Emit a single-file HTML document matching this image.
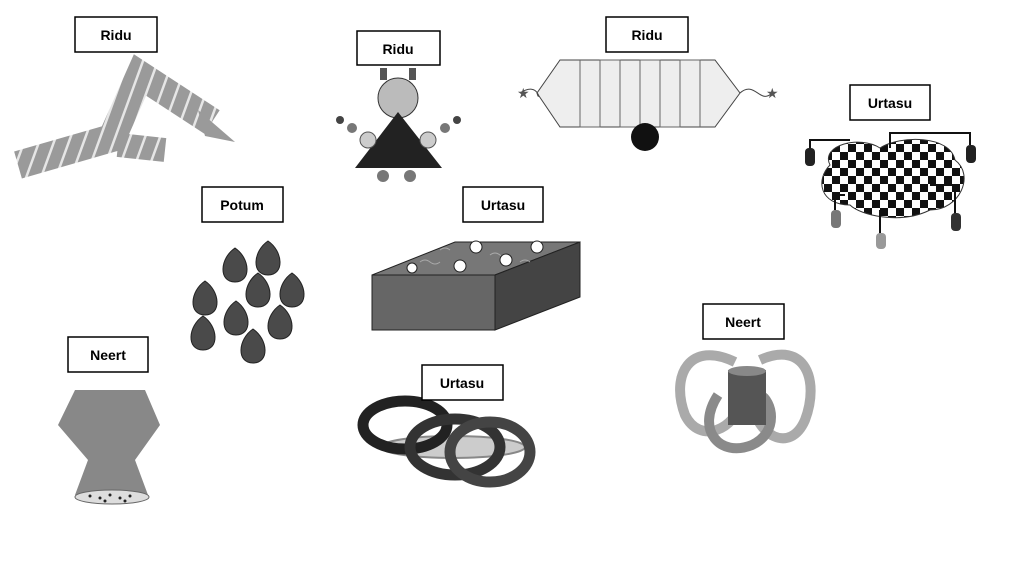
<!DOCTYPE html>
<html><head><meta charset="utf-8"><style>
html,body{margin:0;padding:0;background:#fff;}
svg{display:block;}
.lbl rect{fill:#fff;stroke:#000;stroke-width:1.5;}
.lbl text{font-family:"Liberation Sans",sans-serif;font-weight:bold;font-size:14px;text-anchor:middle;}
</style></head><body>
<svg width="1025" height="577" viewBox="0 0 1025 577">
<defs>
<pattern id="chk" width="16" height="16" patternUnits="userSpaceOnUse"><rect width="16" height="16" fill="#fff"/><rect width="8" height="8" fill="#111"/><rect x="8" y="8" width="8" height="8" fill="#111"/></pattern>
<pattern id="str" width="14" height="14" patternUnits="userSpaceOnUse" patternTransform="rotate(20)"><rect width="14" height="14" fill="#9a9a9a"/><rect width="2.5" height="14" fill="#e6e6e6"/></pattern>
</defs>

<g>
<polyline points="18,165 112,138 140,75 212,122" fill="none" stroke="url(#str)" stroke-width="28" stroke-linejoin="miter"/>
<polyline points="118,145 165,150" fill="none" stroke="url(#str)" stroke-width="24"/>
<polygon points="198,110 235,142 205,136" fill="#9a9a9a"/>
</g>

<g>
<circle cx="398" cy="98" r="20" fill="#bbb" stroke="#333"/>
<rect x="380" y="68" width="7" height="12" fill="#555"/><rect x="409" y="68" width="7" height="12" fill="#555"/>
<polygon points="398,112 355,168 442,168" fill="#222"/>
<circle cx="368" cy="140" r="8" fill="#ccc" stroke="#555"/><circle cx="428" cy="140" r="8" fill="#ccc" stroke="#555"/>
<circle cx="352" cy="128" r="5" fill="#777"/><circle cx="340" cy="120" r="4" fill="#444"/><circle cx="445" cy="128" r="5" fill="#777"/><circle cx="457" cy="120" r="4" fill="#444"/>
<circle cx="383" cy="176" r="6" fill="#777"/><circle cx="410" cy="176" r="6" fill="#777"/>
</g>

<g>
<polygon points="560,60 715,60 740,93 715,127 560,127 537,93" fill="#eee" stroke="#444"/>
<polyline points="580,60 580,127 600,127 600,60 620,60 620,127 640,127 640,60 660,60 660,127 680,127 680,60 700,60 700,127" fill="none" stroke="#666"/>
<circle cx="645" cy="137" r="14" fill="#111"/>
<path d="M520,93 C540,80 540,105 537,93 M740,93 C755,80 760,105 772,93" fill="none" stroke="#444"/>
<text x="517" y="98" font-size="14" fill="#555">★</text><text x="766" y="98" font-size="14" fill="#555">★</text>
</g>

<g>
<path d="M830,165 C820,145 860,135 880,148 C900,135 950,135 955,160 C975,175 960,210 930,210 C900,225 860,215 850,205 C820,205 815,180 830,165Z" fill="url(#chk)" stroke="#333"/>
<path d="M810,150 V140 H850 M890,148 V133 H970 V145 M845,195 H835 V210 M930,185 H955 V215 M880,210 V235" fill="none" stroke="#111" stroke-width="2"/>
<rect x="805" y="148" width="10" height="18" rx="4" fill="#222"/><rect x="966" y="145" width="10" height="18" rx="4" fill="#222"/>
<rect x="831" y="210" width="10" height="18" rx="4" fill="#777"/><rect x="951" y="213" width="10" height="18" rx="4" fill="#333"/><rect x="876" y="233" width="10" height="16" rx="4" fill="#999"/>
</g>

<g fill="#4a4a4a" stroke="#222">
<path d="M235,248 C250,258 252,282 235,282 C218,282 220,258 235,248Z"/>
<path d="M268,241 C283,251 285,275 268,275 C251,275 253,251 268,241Z"/>
<path d="M205,281 C220,291 222,315 205,315 C188,315 190,291 205,281Z"/>
<path d="M258,273 C273,283 275,307 258,307 C241,307 243,283 258,273Z"/>
<path d="M292,273 C307,283 309,307 292,307 C275,307 277,283 292,273Z"/>
<path d="M236,301 C251,311 253,335 236,335 C219,335 221,311 236,301Z"/>
<path d="M280,305 C295,315 297,339 280,339 C263,339 265,315 280,305Z"/>
<path d="M203,316 C218,326 220,350 203,350 C186,350 188,326 203,316Z"/>
<path d="M253,329 C268,339 270,363 253,363 C236,363 238,339 253,329Z"/>
</g>

<g>
<polygon points="372,275 495,275 580,242 455,242" fill="#777" stroke="#222"/>
<rect x="372" y="275" width="123" height="55" fill="#666" stroke="#222"/>
<polygon points="495,275 580,242 580,297 495,330" fill="#444" stroke="#222"/>
<path d="M420,262 q5,-4 10,0 q5,4 10,0 M490,255 q5,-4 10,0 q5,4 10,0 M520,262 q5,-4 10,0 M440,250 q5,-4 10,0" fill="none" stroke="#aaa"/>
<g fill="#fff" stroke="#222"><circle cx="476" cy="247" r="6"/><circle cx="537" cy="247" r="6"/><circle cx="506" cy="260" r="6"/><circle cx="460" cy="266" r="6"/><circle cx="412" cy="268" r="5"/></g>
</g>

<g>
<polygon points="75,390 145,390 160,425 135,460 148,495 75,495 88,460 58,425" fill="#888"/>
<ellipse cx="112" cy="497" rx="37" ry="7" fill="#ddd" stroke="#666"/>
<g fill="#222"><circle cx="90" cy="496" r="1.5"/><circle cx="100" cy="498" r="1.5"/><circle cx="110" cy="495" r="1.5"/><circle cx="120" cy="498" r="1.5"/><circle cx="130" cy="496" r="1.5"/><circle cx="105" cy="501" r="1.5"/><circle cx="125" cy="501" r="1.5"/></g>
</g>

<g fill="none" stroke-width="11">
<ellipse cx="453" cy="447" rx="72" ry="11" fill="#ccc" stroke="#888" stroke-width="2"/>
<ellipse cx="405" cy="425" rx="42" ry="24" stroke="#222"/>
<ellipse cx="455" cy="447" rx="45" ry="28" stroke="#333"/>
<ellipse cx="490" cy="452" rx="40" ry="30" stroke="#444"/>
</g>

<g fill="none" stroke-width="10">
<path d="M735,362 C690,340 670,375 685,415 C700,445 735,430 742,400" stroke="#aaa"/>
<path d="M760,360 C805,340 820,380 805,420 C790,455 755,435 752,400" stroke="#aaa"/>
<path d="M718,395 C695,430 720,458 752,445 C780,432 772,400 760,395" stroke="#8a8a8a"/>
<rect x="728" y="370" width="38" height="55" fill="#555" stroke="none"/>
<ellipse cx="747" cy="371" rx="19" ry="5" fill="#888" stroke="none"/>
</g>

<g class="lbl"><rect x="75" y="17" width="82" height="35"/><text x="116" y="40">Ridu</text></g>
<g class="lbl"><rect x="357" y="31" width="83" height="34"/><text x="398" y="54">Ridu</text></g>
<g class="lbl"><rect x="606" y="17" width="82" height="35"/><text x="647" y="40">Ridu</text></g>
<g class="lbl"><rect x="850" y="85" width="80" height="35"/><text x="890" y="108">Urtasu</text></g>
<g class="lbl"><rect x="202" y="187" width="81" height="35"/><text x="242" y="210">Potum</text></g>
<g class="lbl"><rect x="463" y="187" width="80" height="35"/><text x="503" y="210">Urtasu</text></g>
<g class="lbl"><rect x="68" y="337" width="80" height="35"/><text x="108" y="360">Neert</text></g>
<g class="lbl"><rect x="422" y="365" width="81" height="35"/><text x="462" y="388">Urtasu</text></g>
<g class="lbl"><rect x="703" y="304" width="81" height="35"/><text x="743" y="327">Neert</text></g>
</svg>
</body></html>
